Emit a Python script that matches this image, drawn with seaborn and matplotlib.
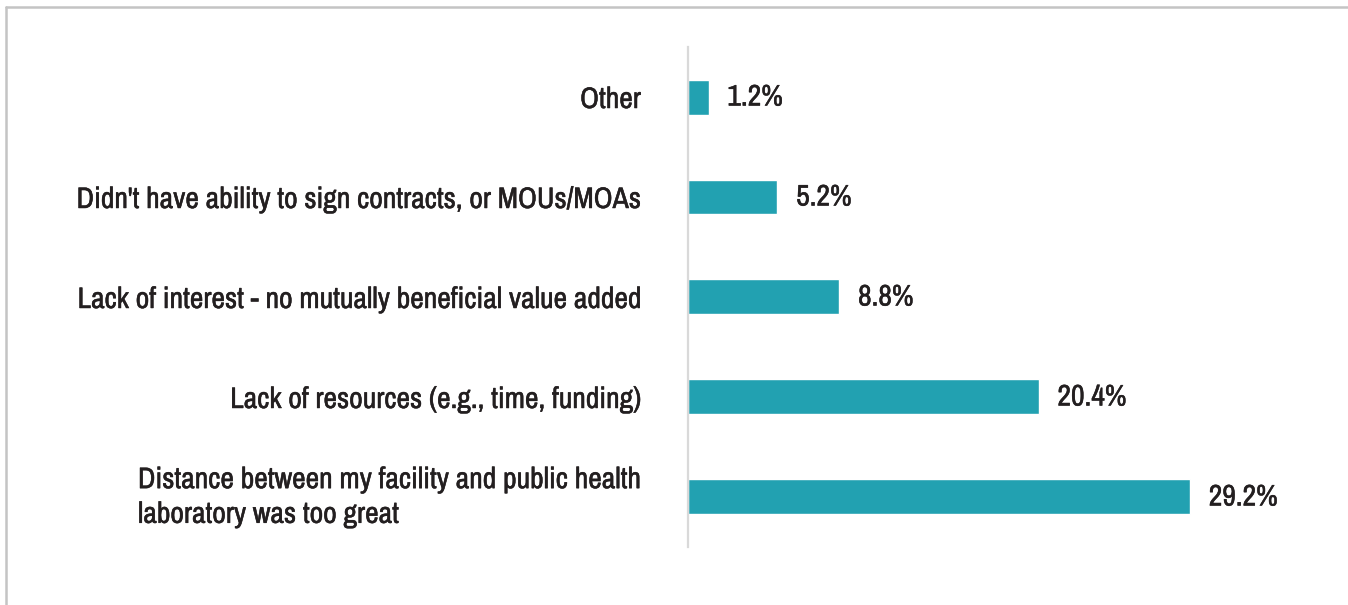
import matplotlib
matplotlib.use("Agg")
import matplotlib.pyplot as plt
import matplotlib.patheffects as pe
from matplotlib import font_manager
from matplotlib.lines import Line2D
import seaborn as sns

# Chart data (top to bottom)
categories = [
    "Other",
    "Didn't have ability to sign contracts, or MOUs/MOAs",
    "Lack of interest - no mutually beneficial value added",
    "Lack of resources (e.g., time, funding)",
    "Distance between my facility and public health\nlaboratory was too great",
]
shares = [1.2, 5.2, 8.8, 20.4, 29.2]

BAR_COLOR = "#22a1b1"
TEXT_COLOR = "#231f20"

sns.set_theme(style="white")

# prefer a condensed sans if one is around (the original uses a narrow face)
narrow = sorted({f.name for f in font_manager.fontManager.ttflist
                 if ("Narrow" in f.name or "Condensed" in f.name)
                 and f.style == "normal"})
plt.rcParams['font.family'] = narrow[:1] + ['Liberation Sans', 'DejaVu Sans']

# the source face is a touch heavier, so thicken the glyphs slightly
heavier = [pe.withStroke(linewidth=0.35, foreground=TEXT_COLOR)]


def fit_size(fig, text, target_px, size=18.0):
    # scale font so the longest label spans about target_px
    t = fig.text(0, 0, text, fontsize=size)
    w = t.get_window_extent(renderer=fig.canvas.get_renderer()).width
    t.remove()
    return size * target_px / w


def draw_chart():
    fig = plt.figure(figsize=(13.48, 6.05), dpi=100)
    fs = fit_size(fig, categories[1], 565)
    ax = fig.add_axes([0.5104, 0.0959, 0.454, 0.8264])

    sns.barplot(x=shares, y=categories, orient="h", color=BAR_COLOR,
                width=0.35, saturation=1, ax=ax)

    # value labels to the right of each bar
    vals = ax.bar_label(ax.containers[0], labels=[f"{v}%" for v in shares],
                        padding=13.5, fontsize=fs, color=TEXT_COLOR)
    for t in vals:
        t.set_path_effects(heavier)

    ax.set_xlim(0, 35.6)
    ax.set_ylim(4.5, -0.5)
    ax.set_xlabel("")
    ax.set_ylabel("")
    ax.set_xticks([])
    ax.tick_params(axis="y", length=0, pad=34, labelsize=fs, labelcolor=TEXT_COLOR)
    for lbl in ax.get_yticklabels():
        lbl.set_path_effects(heavier)
        if "\n" in lbl.get_text():
            lbl.set_multialignment("left")
            lbl.set_linespacing(1.35)
            lbl.set_verticalalignment("center")

    for side in ["top", "right", "bottom"]:
        ax.spines[side].set_visible(False)
    ax.spines["left"].set_color("#d9d9d9")
    ax.spines["left"].set_linewidth(1.6)

    # outer frame (top and left edges of the panel)
    fig.add_artist(Line2D([0.0048, 1.0], [0.9884, 0.9884], color="#c4c4c4",
                          lw=1.8, transform=fig.transFigure))
    fig.add_artist(Line2D([0.0048, 0.0048], [0.0, 0.9884], color="#c4c4c4",
                          lw=1.8, transform=fig.transFigure))

    fig.savefig("out.png", dpi=100, facecolor="white")
    plt.close(fig)


if __name__ == "__main__":
    draw_chart()
